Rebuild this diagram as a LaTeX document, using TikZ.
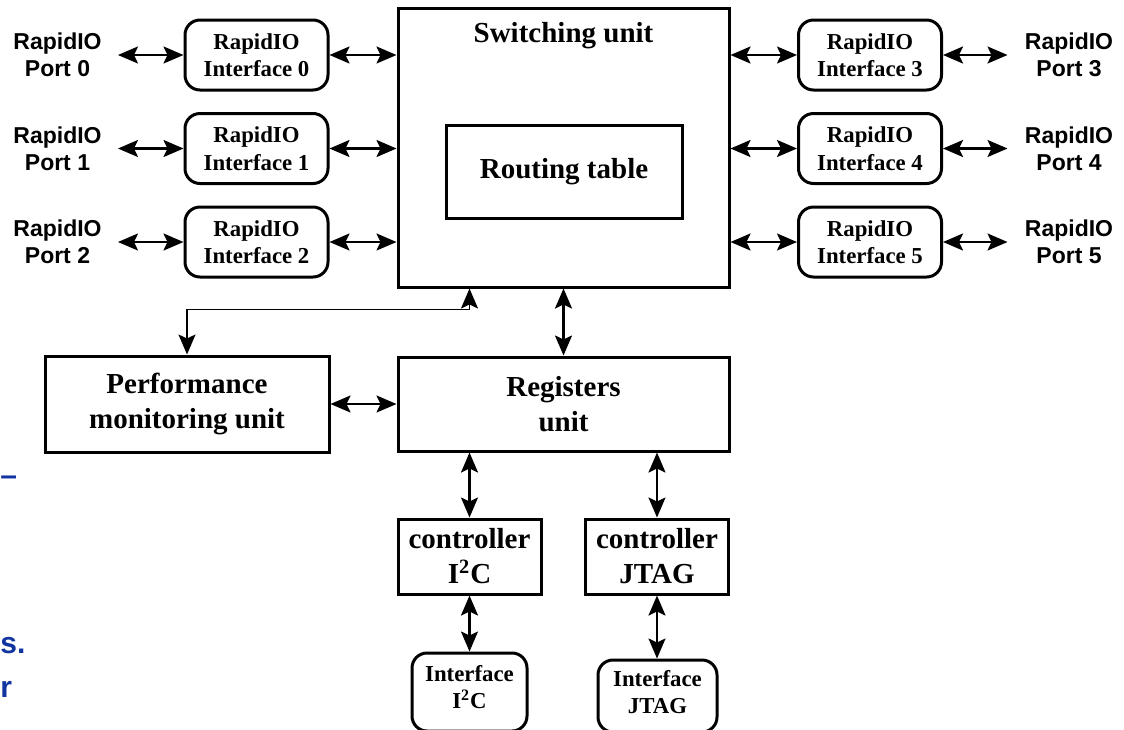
\documentclass[tikz,border=0pt]{standalone}
\usepackage{fontspec}
\setmainfont{Liberation Serif}
\setsansfont{Liberation Sans}
\usetikzlibrary{arrows.meta,positioning}
\definecolor{pageblue}{RGB}{18,52,160}

\begin{document}
\begin{tikzpicture}[x=0.5pt,y=-0.5pt,on grid,>={Stealth[length=10pt,width=8.5pt,inset=2pt]},
      unit/.style={draw,line width=1.5pt,inner sep=0pt,align=center,
        font=\bfseries\fontsize{14.5}{17.5}\selectfont},
      iface/.style={unit,rounded corners=7.5pt,minimum width=71.5pt,minimum height=35pt,
        font=\bfseries\fontsize{11.4}{13.8}\selectfont},
      ctrl/.style={unit,minimum width=71.5pt,minimum height=37.5pt},
      port/.style={inner sep=0pt,align=center,font=\sffamily\bfseries\fontsize{11.5}{13.5}\selectfont},
      frag/.style={inner sep=0pt,text=pageblue,font=\sffamily\bfseries\fontsize{15}{18}\selectfont},
      link/.style={<->,line width=1.1pt}]
  \useasboundingbox (0,0) rectangle (1124,729);

  % switching unit
  \node[unit,minimum width=165.5pt,minimum height=139.5pt] (sw) at (563.5,147.5) {};
  \node[font=\bfseries\fontsize{14.5}{17.5}\selectfont,inner sep=0pt,anchor=base] (swlbl) at (563.5,42) {Switching unit};
  \node[unit,minimum width=118pt,minimum height=46.5pt] (rt) at (564,171.5) {Routing table};

  % interfaces and ports
  \node[iface] (if0) at (256.5,55) {RapidIO\\Interface 0};
  \node[iface] (if1) [below=46.75pt of if0] {RapidIO\\Interface 1};
  \node[iface] (if2) [below=46.75pt of if1] {RapidIO\\Interface 2};
  \node[iface] (if3) [right=306.75pt of if0] {RapidIO\\Interface 3};
  \node[iface] (if4) [below=46.75pt of if3] {RapidIO\\Interface 4};
  \node[iface] (if5) [below=46.75pt of if4] {RapidIO\\Interface 5};
  \node[port] (p0) [left=99.5pt of if0] {RapidIO\\Port 0};
  \node[port] (p1) [left=99.5pt of if1] {RapidIO\\Port 1};
  \node[port] (p2) [left=99.5pt of if2] {RapidIO\\Port 2};
  \node[port] (p3) [right=99.5pt of if3] {RapidIO\\Port 3};
  \node[port] (p4) [right=99.5pt of if4] {RapidIO\\Port 4};
  \node[port] (p5) [right=99.5pt of if5] {RapidIO\\Port 5};

  % lower blocks
  \node[unit,minimum width=142pt,minimum height=48pt] (pmu) at (187,404) {Performance\\monitoring unit};
  \node[unit,minimum width=165.5pt,minimum height=47pt] (reg) [below=128.25pt of sw] {Registers\\unit};
  \node[ctrl] (ci2c) at (469.5,556.5) {controller\\I\textsuperscript{2}C};
  \node[ctrl] (cjtag) [right=93.75pt of ci2c] {controller\\JTAG};
  \node[iface,minimum width=57.5pt,minimum height=39pt] (ii2c) [below=67.75pt of ci2c] {};
  \node[iface,minimum width=59.5pt,minimum height=36pt] (ijtag) at (657.5,696) {};
  \node[inner sep=0pt,align=center,font=\bfseries\fontsize{11.4}{13.8}\selectfont,yshift=2.5pt]
    (ii2clbl) at (ii2c.center) {Interface\\I\textsuperscript{2}C};
  \node[inner sep=0pt,align=center,font=\bfseries\fontsize{11.4}{13.8}\selectfont,yshift=2pt]
    (ijtaglbl) at (ijtag.center) {Interface\\JTAG};

  % connectors
  \foreach \i in {0,1,2} {
    \draw[link,shorten <=8pt] (p\i.east |- if\i.west) -- (if\i.west);
    \draw[link] (if\i.east) -- (if\i.east -| sw.west);
  }
  \foreach \i in {3,4,5} {
    \draw[link,shorten <=8.5pt] (p\i.west |- if\i.east) -- (if\i.east);
    \draw[link] (if\i.west) -- (if\i.west -| sw.east);
  }
  \draw[link] (sw.south) -- (reg.north);
  \draw[link,line width=0.9pt] (pmu.north) -- ++(0,-45) -| (ci2c.north |- sw.south);
  \draw[link] (pmu.east) -- (reg.west);
  \draw[link] (ci2c.north |- reg.south) -- (ci2c.north);
  \draw[link] (cjtag.north |- reg.south) -- (cjtag.north);
  \draw[link] (ci2c.south) -- (ii2c.north);
  \draw[link] (cjtag.south) -- (cjtag.south |- ijtag.north);

  % text fragments at the page edge
  \node[frag,anchor=base west] (fraga) at (0,485) {–};
  \node[frag,anchor=base west] (fragb) at (0,653) {s.};
  \node[frag,anchor=base west] (fragc) at (0,697) {r};
\end{tikzpicture}
\end{document}
